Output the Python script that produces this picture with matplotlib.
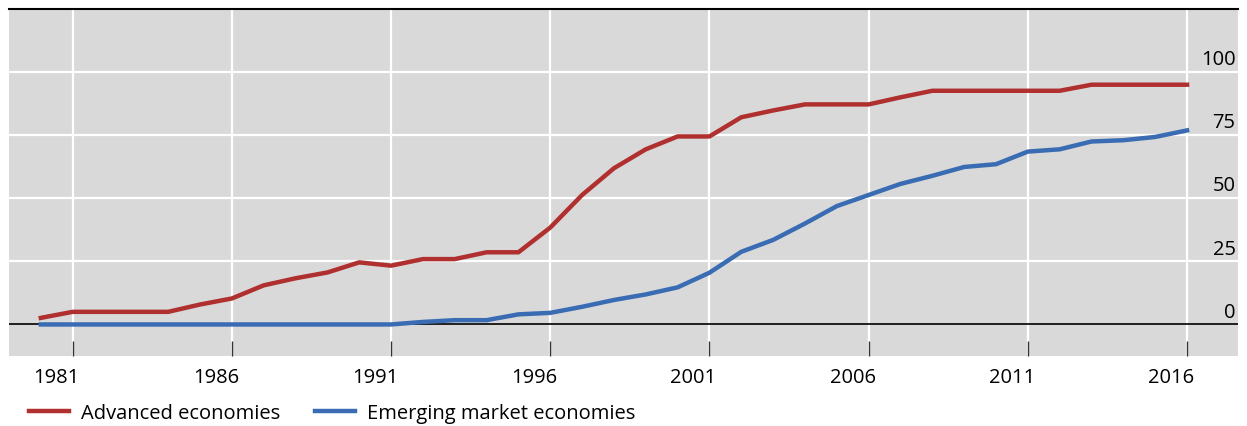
import numpy as np
import matplotlib.pyplot as plt

years = np.arange(1980, 2017)

advanced = [2.6, 5.0, 5.0, 5.0, 5.0, 7.9, 10.3, 15.5, 18.3, 20.6, 24.6, 23.3,
            25.9, 25.9, 28.6, 28.6, 38.4, 51.3, 61.9, 69.4, 74.5, 74.5, 82.1,
            84.8, 87.2, 87.2, 87.2, 90.0, 92.6, 92.6, 92.6, 92.6, 92.6, 95.0,
            95.0, 95.0, 95.0]

emerging = [0, 0, 0, 0, 0, 0, 0, 0, 0, 0, 0, 0,
            1.0, 1.7, 1.7, 4.0, 4.6, 7.0, 9.7, 11.9, 14.7, 20.5, 28.8,
            33.5, 40.0, 46.9, 51.3, 55.7, 58.9, 62.4, 63.5, 68.5, 69.4, 72.5,
            73.0, 74.3, 76.9]

tick_years = [1981, 1986, 1991, 1996, 2001, 2006, 2011, 2016]
y_ticks = [0, 25, 50, 75, 100]

plt.rcParams['font.family'] = ['Open Sans', 'DejaVu Sans']
fs = 14.5

W, H = 1247, 427
fig = plt.figure(figsize=(W / 100, H / 100), dpi=100)
ax = fig.add_axes([9 / W, 1 - 357 / H, (1238 - 9) / W, (357 - 10) / H])
ax.set_facecolor('#d9d9d9')

ax.set_xlim(1979.0, 2017.6)
ax.set_ylim(-12.5, 125)

ax.plot(years, advanced, color='#b0302f', lw=3.2, label='Advanced economies', zorder=3)
ax.plot(years, emerging, color='#3a6cb3', lw=3.2, label='Emerging market economies', zorder=3)
ax.axhline(0, color='black', lw=1.2, zorder=2)

for y in y_ticks[1:]:
    ax.axhline(y, color='white', lw=1.6, zorder=1)
for x in tick_years:
    ax.axvline(x, color='white', lw=1.6, zorder=1)

# ticks sit on the gridlines, labels shifted half a year to the left
ax.set_xticks(tick_years)
ax.set_xticklabels([])
ax.tick_params(axis='x', which='major', direction='in', length=11, width=1.0,
               color='#333333')
ax.set_xticks([y - 0.5 for y in tick_years], minor=True)
ax.set_xticklabels([str(y) for y in tick_years], minor=True, fontsize=fs)
ax.tick_params(axis='x', which='minor', length=0, pad=8)
ax.set_yticks([])

for y in y_ticks:
    ax.annotate(str(y), xy=(0.998, y), xycoords=ax.get_yaxis_transform(),
                xytext=(0, 2), textcoords='offset points',
                ha='right', va='bottom', fontsize=fs)

for s in ['left', 'right', 'bottom']:
    ax.spines[s].set_visible(False)
ax.spines['top'].set_color('black')
ax.spines['top'].set_linewidth(1.5)

fig.legend(loc='center left', bbox_to_anchor=(29 / W, 1 - 414 / H), ncol=2,
           frameon=False, fontsize=fs, handlelength=2.0, handletextpad=0.6,
           columnspacing=1.7, borderpad=0, borderaxespad=0)

fig.savefig('out.png', dpi=100)
